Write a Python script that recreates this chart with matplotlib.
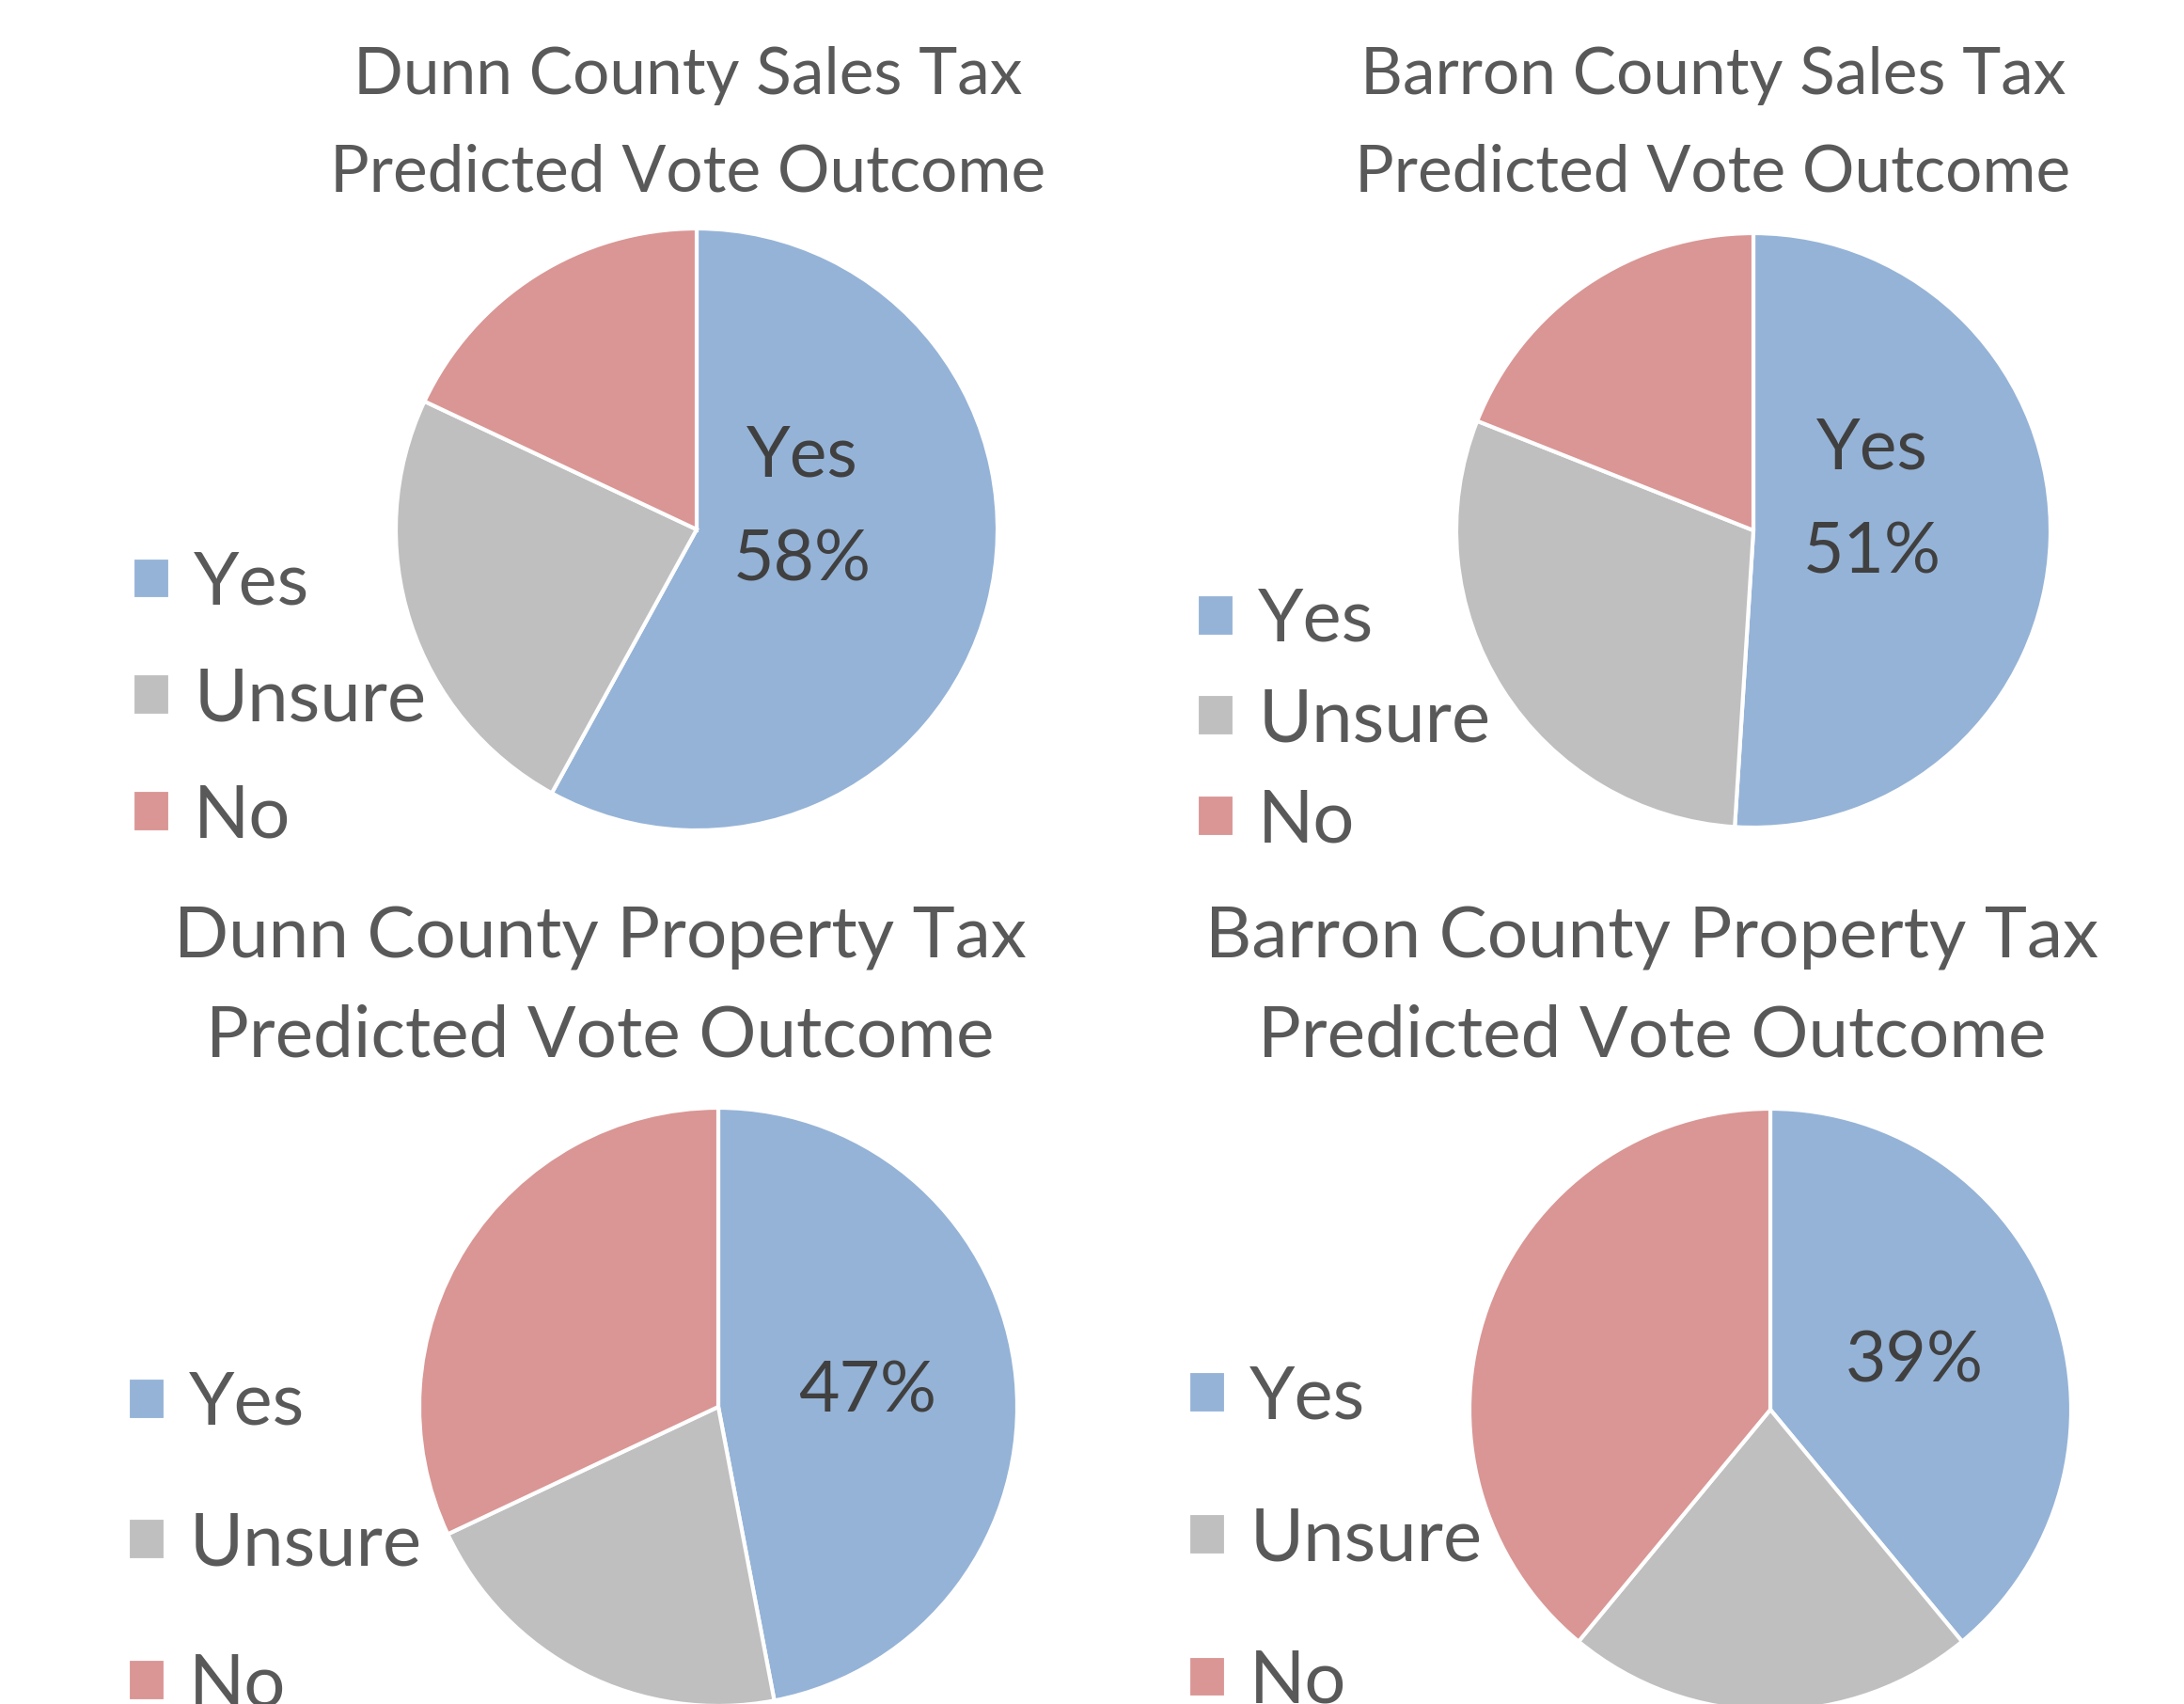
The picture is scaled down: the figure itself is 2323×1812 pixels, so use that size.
import matplotlib
matplotlib.use("Agg")
import matplotlib.pyplot as plt

plt.rcParams['font.family'] = ['Lato', 'DejaVu Sans']

categories = ['Yes', 'Unsure', 'No']
colors = ['#95B3D7', '#BFBFBF', '#D99694']

dunn_sales = [58, 24, 18]
barron_sales = [51, 30, 19]
dunn_property = [47, 21, 32]
barron_property = [39, 22, 39]

titles = [
    'Dunn County Sales Tax\nPredicted Vote Outcome',
    'Barron County Sales Tax\nPredicted Vote Outcome',
    'Dunn County Property Tax\nPredicted Vote Outcome',
    'Barron County Property Tax\nPredicted Vote Outcome',
]
series = [dunn_sales, barron_sales, dunn_property, barron_property]
show_name = [True, True, False, False]

W, H = 2323, 1812
fig = plt.figure(figsize=(W / 100, H / 100), dpi=100)

# layout in pixels: pie centre x, y, radius
pies = [(741, 563, 320), (1865, 564, 316), (764, 1496, 318), (1883, 1499, 320)]
label_pos = [(0.35, 0.07), (0.40, 0.10), (0.50, 0.05), (0.48, 0.16)]
title_pos = [(732, 132), (1822, 132), (638, 1050), (1757, 1050)]
# top titles are squeezed narrower in the original
title_size = [50, 50, 55, 55]
title_ls = [1.8, 1.8, 1.63, 1.63]
legend_pos = [(141, 745, 0.68), (1273, 767, 0.46), (136, 1643, 1.01), (1264, 1638, 1.03)]

text_col = '#595959'

for i in range(4):
    cx, cy, r = pies[i]
    ax = fig.add_axes([(cx - r) / W, (H - cy - r) / H, 2 * r / W, 2 * r / H])
    vals = series[i]
    wedges, texts, autotexts = ax.pie(
        vals, colors=colors, startangle=90, counterclock=False,
        autopct='%1.0f%%', wedgeprops=dict(edgecolor='white', linewidth=3))
    for t in texts:
        t.set_visible(False)
    for j, t in enumerate(autotexts):
        if j == 0:
            s = f'{vals[0]}%'
            if show_name[i]:
                s = f'{categories[0]}\n{s}'
            t.set_text(s)
            t.set_position(label_pos[i])
            t.set_fontsize(54)
            t.set_color('#404040')
            t.set_linespacing(1.75)
            t.set_ha('center')
            t.set_va('center')
        else:
            t.set_visible(False)
    ax.set_xlim(-1.0, 1.0)
    ax.set_ylim(-1.0, 1.0)
    ax.set_aspect('equal')

    tx, ty = title_pos[i]
    fig.text(tx / W, 1 - ty / H, titles[i], ha='center', va='center',
             fontsize=title_size[i], color=text_col, linespacing=title_ls[i])

    lx, ly, sp = legend_pos[i]
    fig.legend(wedges, categories, loc='center left',
               bbox_to_anchor=(lx / W, 1 - ly / H), frameon=False,
               fontsize=56, labelcolor=text_col, handlelength=0.51,
               handleheight=0.51, handletextpad=0.33, labelspacing=sp,
               borderpad=0, borderaxespad=0)

fig.savefig('out.png', dpi=100, facecolor='white')
